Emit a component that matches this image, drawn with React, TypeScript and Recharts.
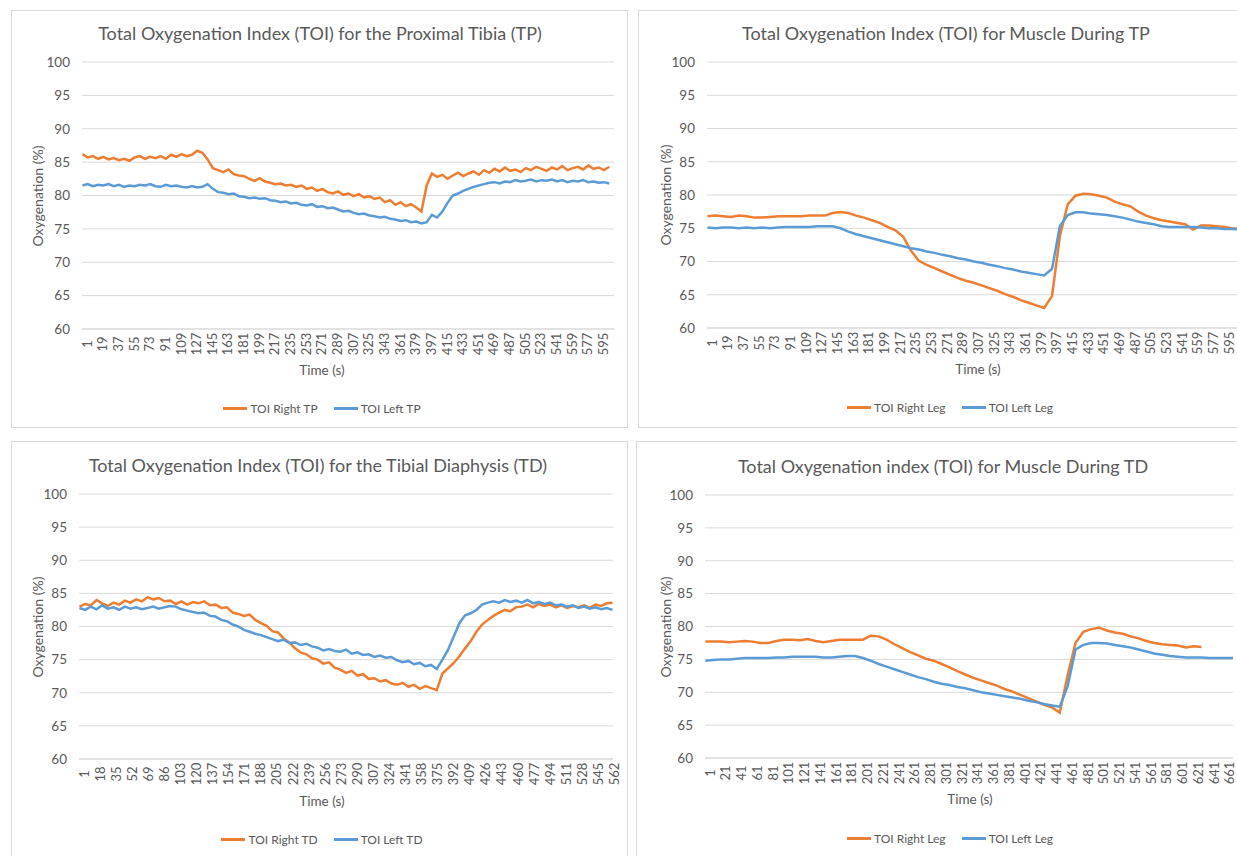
import { LineChart, Line, XAxis, YAxis, CartesianGrid } from "recharts";

const ORANGE = "#ED7D31";
const BLUE = "#5B9BD5";
const TEXT = "#595959";
const GRID = "#D9D9D9";
const FONT = "Lato, 'Open Sans', sans-serif";

// y axis (all four charts)
const yTicks = [60, 65, 70, 75, 80, 85, 90, 95, 100];

// x tick labels (Time, s)
const tpTicks = [1, 19, 37, 55, 73, 91, 109, 127, 145, 163, 181, 199, 217, 235, 253, 271, 289, 307, 325, 343, 361, 379, 397, 415, 433, 451, 469, 487, 505, 523, 541, 559, 577, 595];
const tdTicks = [1, 18, 35, 52, 69, 86, 103, 120, 137, 154, 171, 188, 205, 222, 239, 256, 273, 290, 307, 324, 341, 358, 375, 392, 409, 426, 443, 460, 477, 494, 511, 528, 545, 562];
const muscleTdTicks = [1, 21, 41, 61, 81, 101, 121, 141, 161, 181, 201, 221, 241, 261, 281, 301, 321, 341, 361, 381, 401, 421, 441, 461, 481, 501, 521, 541, 561, 581, 601, 621, 641, 661];

// Proximal Tibia, sampled every 6 s from t = 1
const rightTP = [86.2, 85.7, 85.9, 85.5, 85.8, 85.4, 85.6, 85.3, 85.5, 85.2, 85.7, 85.9, 85.5, 85.8, 85.6, 85.9, 85.5, 86.1, 85.8, 86.2, 85.9, 86.1, 86.7, 86.4, 85.4, 84.1, 83.8, 83.5, 83.9, 83.2, 83.0, 82.9, 82.5, 82.2, 82.6, 82.1, 81.9, 81.7, 81.8, 81.5, 81.6, 81.3, 81.5, 81.0, 81.2, 80.7, 81.0, 80.5, 80.3, 80.6, 80.1, 80.3, 79.9, 80.2, 79.7, 79.9, 79.5, 79.7, 79.0, 79.3, 78.6, 79.0, 78.4, 78.7, 78.2, 77.6, 81.5, 83.3, 82.8, 83.1, 82.5, 83.0, 83.4, 82.9, 83.3, 83.6, 83.1, 83.8, 83.4, 84.0, 83.6, 84.2, 83.7, 83.9, 83.5, 84.1, 83.8, 84.3, 84.0, 83.7, 84.2, 83.9, 84.4, 83.8, 84.1, 84.3, 83.9, 84.5, 84.0, 84.2, 83.8, 84.3];
const leftTP = [81.5, 81.7, 81.4, 81.6, 81.5, 81.7, 81.4, 81.6, 81.3, 81.5, 81.4, 81.6, 81.5, 81.7, 81.4, 81.3, 81.6, 81.4, 81.5, 81.3, 81.2, 81.4, 81.2, 81.3, 81.7, 81.0, 80.5, 80.4, 80.2, 80.3, 79.9, 79.8, 79.6, 79.7, 79.5, 79.6, 79.3, 79.2, 79.0, 79.1, 78.8, 78.9, 78.6, 78.5, 78.7, 78.3, 78.4, 78.1, 78.2, 77.9, 77.6, 77.7, 77.4, 77.2, 77.3, 77.0, 76.9, 76.7, 76.8, 76.5, 76.4, 76.2, 76.3, 76.0, 76.1, 75.8, 76.0, 77.1, 76.7, 77.6, 78.9, 80.0, 80.3, 80.7, 81.0, 81.3, 81.5, 81.7, 81.9, 82.0, 81.8, 82.1, 82.0, 82.3, 82.1, 82.2, 82.4, 82.1, 82.3, 82.2, 82.4, 82.1, 82.3, 82.0, 82.2, 82.1, 82.3, 82.0, 82.1, 81.9, 82.0, 81.8];

// Muscle during TP, sampled every 9 s from t = 1
const rightLegTP = [76.8, 76.9, 76.8, 76.7, 76.9, 76.8, 76.6, 76.6, 76.7, 76.8, 76.8, 76.8, 76.8, 76.9, 76.9, 76.9, 77.3, 77.45, 77.3, 76.9, 76.6, 76.2, 75.8, 75.2, 74.7, 73.7, 71.6, 70.1, 69.5, 69.0, 68.5, 68.0, 67.5, 67.1, 66.8, 66.4, 66.0, 65.6, 65.1, 64.7, 64.2, 63.8, 63.4, 63.0, 64.8, 73.8, 78.6, 79.9, 80.2, 80.1, 79.9, 79.6, 79.0, 78.6, 78.3, 77.5, 76.9, 76.5, 76.2, 76.0, 75.8, 75.6, 74.8, 75.4, 75.4, 75.3, 75.2, 75.0, 74.9];
const leftLegTP = [75.1, 75.0, 75.1, 75.1, 75.0, 75.1, 75.0, 75.1, 75.0, 75.1, 75.2, 75.2, 75.2, 75.2, 75.3, 75.3, 75.3, 75.0, 74.5, 74.1, 73.8, 73.5, 73.2, 72.9, 72.6, 72.3, 72.0, 71.8, 71.5, 71.3, 71.0, 70.8, 70.5, 70.3, 70.0, 69.8, 69.5, 69.3, 69.0, 68.8, 68.5, 68.3, 68.1, 67.9, 68.9, 75.3, 77.0, 77.4, 77.4, 77.2, 77.1, 77.0, 76.8, 76.6, 76.3, 76.0, 75.8, 75.6, 75.3, 75.2, 75.2, 75.2, 75.2, 75.1, 75.0, 75.0, 74.9, 74.9, 74.8];

// Tibial Diaphysis, sampled every 6 s from t = 1
const rightTD = [83.0, 83.4, 83.2, 84.0, 83.5, 83.1, 83.6, 83.3, 83.9, 83.6, 84.1, 83.8, 84.4, 84.1, 84.3, 83.8, 83.9, 83.4, 83.8, 83.3, 83.7, 83.5, 83.8, 83.2, 83.3, 82.8, 82.9, 82.1, 81.9, 81.6, 81.8, 81.0, 80.5, 80.1, 79.3, 79.1, 78.2, 77.6, 76.7, 76.1, 75.8, 75.2, 75.0, 74.4, 74.6, 73.8, 73.5, 73.0, 73.3, 72.6, 72.8, 72.1, 72.2, 71.7, 71.9, 71.4, 71.2, 71.5, 70.9, 71.2, 70.6, 71.0, 70.7, 70.4, 72.9, 73.7, 74.5, 75.5, 76.7, 77.8, 79.2, 80.3, 81.0, 81.6, 82.1, 82.5, 82.3, 82.9, 83.0, 83.3, 82.9, 83.4, 83.1, 83.3, 82.9, 83.2, 82.8, 83.1, 82.9, 83.2, 82.8, 83.3, 83.1, 83.5, 83.6];
const leftTD = [82.8, 82.5, 83.0, 82.6, 83.2, 82.7, 82.9, 82.5, 83.0, 82.7, 82.9, 82.6, 82.8, 83.0, 82.7, 82.9, 83.1, 83.0, 82.6, 82.4, 82.2, 82.0, 82.1, 81.6, 81.5, 81.0, 80.8, 80.3, 80.0, 79.5, 79.2, 78.9, 78.7, 78.4, 78.1, 77.8, 78.0, 77.5, 77.6, 77.2, 77.4, 77.0, 76.8, 76.4, 76.6, 76.3, 76.2, 76.5, 75.9, 76.1, 75.7, 75.8, 75.4, 75.6, 75.3, 75.4, 74.9, 74.6, 74.8, 74.3, 74.5, 74.0, 74.2, 73.6, 75.0, 76.5, 78.5, 80.5, 81.7, 82.0, 82.5, 83.3, 83.6, 83.8, 83.6, 84.0, 83.7, 83.9, 83.6, 84.0, 83.5, 83.7, 83.4, 83.6, 83.2, 83.3, 83.0, 83.2, 82.8, 83.0, 82.7, 82.9, 82.6, 82.8, 82.5];

// Muscle during TD, sampled every 10 s from t = 1
const rightLegTD = [77.7, 77.7, 77.7, 77.6, 77.7, 77.8, 77.7, 77.5, 77.5, 77.8, 78.0, 78.0, 77.9, 78.1, 77.8, 77.6, 77.8, 78.0, 78.0, 78.0, 78.0, 78.6, 78.5, 78.0, 77.3, 76.7, 76.1, 75.6, 75.1, 74.8, 74.3, 73.8, 73.2, 72.7, 72.2, 71.8, 71.4, 71.0, 70.5, 70.1, 69.6, 69.1, 68.6, 68.1, 67.7, 66.9, 72.6, 77.5, 79.2, 79.6, 79.8, 79.4, 79.1, 78.9, 78.5, 78.2, 77.8, 77.5, 77.3, 77.2, 77.1, 76.8, 77.0, 76.9];
const leftLegTD = [74.8, 74.9, 75.0, 75.0, 75.1, 75.2, 75.2, 75.2, 75.2, 75.3, 75.3, 75.4, 75.4, 75.4, 75.4, 75.3, 75.3, 75.4, 75.5, 75.5, 75.2, 74.8, 74.3, 73.9, 73.5, 73.1, 72.7, 72.3, 72.0, 71.6, 71.3, 71.1, 70.8, 70.6, 70.3, 70.0, 69.8, 69.6, 69.4, 69.2, 69.0, 68.7, 68.5, 68.2, 68.0, 67.8, 70.9, 76.5, 77.2, 77.5, 77.5, 77.4, 77.2, 77.0, 76.8, 76.5, 76.2, 75.9, 75.7, 75.5, 75.4, 75.3, 75.3, 75.3, 75.2, 75.2, 75.2, 75.2];

type Series = { name: string; color: string; values: number[]; step: number };
type Box = { left: number; top: number; width: number; height: number };
type Plot = { left: number; top: number; right: number; bottom: number };

type PanelProps = {
  frame: Box;
  plot: Plot;
  title: string;
  titleX: number;
  titleY: number;
  ticks: number[];
  maxT: number;
  series: Series[];
  yLabelX: number;
  timeX: number;
  timeY: number;
  legendX: number;
  legendY: number;
};

const toPoints = (values: number[], step: number) =>
  values.map((v, i) => ({ t: 1 + i * step, v }));

const Panel = (p: PanelProps) => {
  const { frame, plot } = p;
  const chartWidth = plot.right - frame.left + 20;
  const chartHeight = plot.bottom - frame.top + 40;
  const yMid = (plot.top + plot.bottom) / 2;

  return (
    <>
      <div
        style={{
          position: "absolute",
          left: frame.left,
          top: frame.top,
          width: frame.width,
          height: frame.height,
          border: "1px solid #D9D9D9",
          boxSizing: "border-box",
          background: "#fff",
        }}
      />
      <div
        style={{
          position: "absolute",
          left: p.titleX - 300,
          width: 600,
          top: p.titleY - 12,
          height: 24,
          lineHeight: "24px",
          textAlign: "center",
          fontFamily: FONT,
          fontSize: 18,
          color: TEXT,
          whiteSpace: "nowrap",
        }}
      >
        {p.title}
      </div>
      <div style={{ position: "absolute", left: frame.left, top: frame.top }}>
        <LineChart
          width={chartWidth}
          height={chartHeight}
          margin={{ top: plot.top - frame.top, right: 20, bottom: 0, left: 0 }}
        >
          <CartesianGrid vertical={false} stroke={GRID} />
          <XAxis
            dataKey="t"
            type="number"
            domain={[0.5, p.maxT + 0.5]}
            ticks={p.ticks}
            interval={0}
            allowDuplicatedCategory={false}
            height={40}
            axisLine={{ stroke: GRID }}
            tickLine={false}
            tickSize={4}
            tickMargin={11}
            tick={{
              angle: -90,
              textAnchor: "middle",
              verticalAnchor: "middle",
              fontSize: 13,
              fill: TEXT,
              fontFamily: FONT,
            }}
          />
          <YAxis
            type="number"
            domain={[60, 100]}
            ticks={yTicks}
            interval={0}
            width={plot.left - frame.left}
            axisLine={false}
            tickLine={false}
            tickMargin={6}
            tick={{ fontSize: 13.5, fill: TEXT, fontFamily: FONT }}
          />
          {p.series.map((s) => (
            <Line
              key={s.name}
              data={toPoints(s.values, s.step)}
              dataKey="v"
              name={s.name}
              type="linear"
              stroke={s.color}
              strokeWidth={2.5}
              dot={false}
              isAnimationActive={false}
            />
          ))}
        </LineChart>
      </div>
      <div
        style={{
          position: "absolute",
          left: p.yLabelX - 100,
          top: yMid - 10,
          width: 200,
          height: 20,
          lineHeight: "20px",
          textAlign: "center",
          transform: "rotate(-90deg)",
          fontFamily: FONT,
          fontSize: 14,
          color: TEXT,
        }}
      >
        Oxygenation (%)
      </div>
      <div
        style={{
          position: "absolute",
          left: p.timeX - 100,
          top: p.timeY - 10,
          width: 200,
          height: 20,
          lineHeight: "20px",
          textAlign: "center",
          fontFamily: FONT,
          fontSize: 13.5,
          color: TEXT,
        }}
      >
        Time (s)
      </div>
      <div
        style={{
          position: "absolute",
          left: p.legendX - 200,
          top: p.legendY - 10,
          width: 400,
          height: 20,
          display: "flex",
          justifyContent: "center",
          alignItems: "center",
          gap: 16,
          fontFamily: FONT,
          fontSize: 12,
          color: TEXT,
        }}
      >
        {p.series.map((s) => (
          <div key={s.name} style={{ display: "flex", alignItems: "center", gap: 3 }}>
            <div style={{ width: 24, height: 3, background: s.color }} />
            <span>{s.name}</span>
          </div>
        ))}
      </div>
    </>
  );
};

const App = () => (
  <div
    style={{
      position: "absolute",
      left: 0,
      top: 0,
      width: 1237,
      height: 856,
      overflow: "hidden",
      background: "#fff",
    }}
  >
    <Panel
      frame={{ left: 11, top: 10, width: 617, height: 418 }}
      plot={{ left: 82, top: 62, right: 614, bottom: 329 }}
      title="Total Oxygenation Index (TOI) for the Proximal Tibia (TP)"
      titleX={320}
      titleY={33}
      ticks={tpTicks}
      maxT={612}
      series={[
        { name: "TOI Right TP", color: ORANGE, values: rightTP, step: 6 },
        { name: "TOI Left TP", color: BLUE, values: leftTP, step: 6 },
      ]}
      yLabelX={38}
      timeX={322}
      timeY={370}
      legendX={322}
      legendY={408}
    />
    <Panel
      frame={{ left: 638, top: 10, width: 640, height: 418 }}
      plot={{ left: 707, top: 62, right: 1240, bottom: 328 }}
      title="Total Oxygenation Index (TOI) for Muscle During TP"
      titleX={946}
      titleY={33}
      ticks={tpTicks}
      maxT={612}
      series={[
        { name: "TOI Right Leg", color: ORANGE, values: rightLegTP, step: 9 },
        { name: "TOI Left Leg", color: BLUE, values: leftLegTP, step: 9 },
      ]}
      yLabelX={666}
      timeX={978}
      timeY={369}
      legendX={950}
      legendY={407}
    />
    <Panel
      frame={{ left: 11, top: 441, width: 617, height: 430 }}
      plot={{ left: 79, top: 494, right: 613, bottom: 759 }}
      title="Total Oxygenation Index (TOI) for the Tibial Diaphysis (TD)"
      titleX={318}
      titleY={465}
      ticks={tdTicks}
      maxT={565}
      series={[
        { name: "TOI Right TD", color: ORANGE, values: rightTD, step: 6 },
        { name: "TOI Left TD", color: BLUE, values: leftTD, step: 6 },
      ]}
      yLabelX={38}
      timeX={322}
      timeY={801}
      legendX={322}
      legendY={839}
    />
    <Panel
      frame={{ left: 636, top: 441, width: 640, height: 430 }}
      plot={{ left: 705, top: 495, right: 1233, bottom: 758 }}
      title="Total Oxygenation index (TOI) for Muscle During TD"
      titleX={943}
      titleY={466}
      ticks={muscleTdTicks}
      maxT={670}
      series={[
        { name: "TOI Right Leg", color: ORANGE, values: rightLegTD, step: 10 },
        { name: "TOI Left Leg", color: BLUE, values: leftLegTD, step: 10 },
      ]}
      yLabelX={666}
      timeX={970}
      timeY={799}
      legendX={950}
      legendY={838}
    />
  </div>
);

export default App;
